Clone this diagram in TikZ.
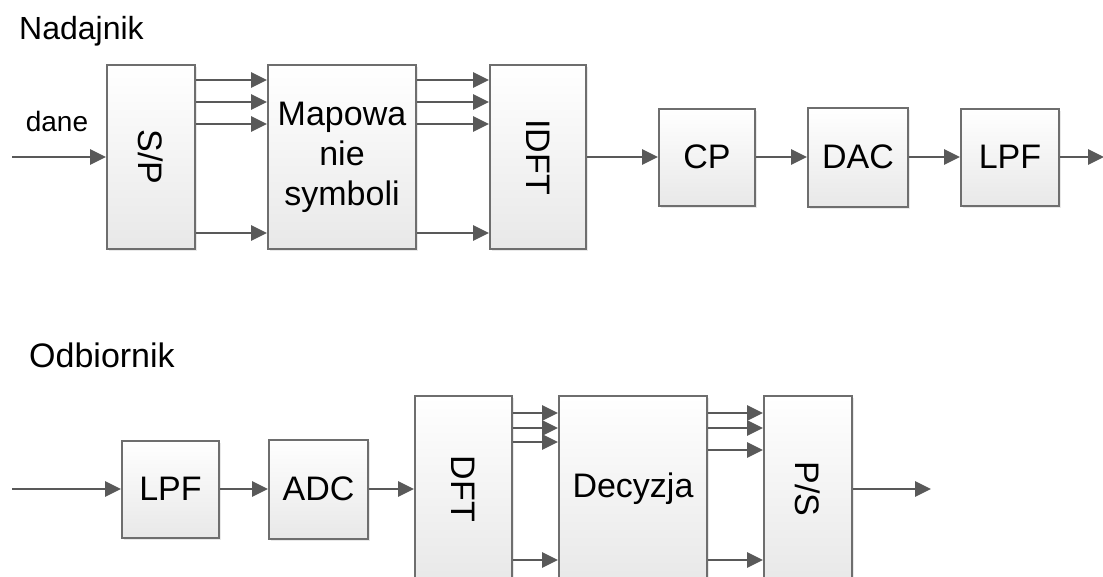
\documentclass[tikz,border=0pt]{standalone}
\usepackage{fontspec}
\setmainfont{Liberation Sans}
\usetikzlibrary{arrows.meta,shadows}
\definecolor{boxline}{HTML}{6E6E6E}
\definecolor{arrline}{HTML}{595959}
\begin{document}
\begin{tikzpicture}[x=1pt,y=-1pt,
  blk/.style={draw=boxline,line width=2pt,top color=white,bottom color=black!9,
    rectangle,inner sep=0pt,
    drop shadow={shadow xshift=2pt,shadow yshift=-2pt,fill=black!25,opacity=0.35}},
  blabel/.style={font=\fontsize{34}{40}\selectfont,text=black,align=center,inner sep=0pt},
  rlabel/.style={blabel,rotate=-90},
  arr/.style={draw=arrline,line width=2.8pt,-{Triangle[length=16pt,width=15pt]}},
  title/.style={font=\fontsize{32}{38}\selectfont,anchor=west,inner sep=0pt}
]
\useasboundingbox (0,0) rectangle (1103,576);
\begin{scope}
\clip (0,0) rectangle (1103,576);
% ---- Nadajnik
\node[title] (tN) at (19,31) {Nadajnik};
\coordinate (inT) at (12,157);
\node[font=\fontsize{28}{32}\selectfont,inner sep=0pt] (dane) at (57,121) {dane};
\node[blk,minimum width=88pt,minimum height=184pt] (sp) at (151,157) {};
\node[rlabel] (spT) at (sp.center) {S/P};
\node[blk,minimum width=148pt,minimum height=184pt] (map) at (342,157) {};
\node[blabel] (mapT) at (map.center) {Mapowa\\nie\\symboli};
\node[blk,minimum width=96pt,minimum height=184pt] (idft) at (538,157) {};
\node[rlabel] (idftT) at (idft.center) {IDFT};
\node[blk,minimum width=96pt,minimum height=97pt] (cp) at (707,157) {};
\node[blabel] (cpT) at (cp.center) {CP};
\node[blk,minimum width=100pt,minimum height=99pt] (dac) at (858,157) {};
\node[blabel] (dacT) at (dac.center) {DAC};
\node[blk,minimum width=98pt,minimum height=97pt] (lpfa) at (1010,157) {};
\node[blabel] (lpfaT) at (lpfa.center) {LPF};
\coordinate (outT) at (1104,157);

\draw[arr] (inT) -- (sp.west);
\foreach \d in {77,55,33,-76}{
  \draw[arr] ([yshift=\d pt]sp.east) -- ([yshift=\d pt]map.west);
  \draw[arr] ([yshift=\d pt]map.east) -- ([yshift=\d pt]idft.west);
}
\draw[arr] (idft.east) -- (cp.west);
\draw[arr] (cp.east) -- (dac.west);
\draw[arr] (dac.east) -- (lpfa.west);
\draw[arr] (lpfa.east) -- (outT);

% ---- Odbiornik
\node[title,font=\fontsize{34}{40}\selectfont] (tO) at (29,355) {Odbiornik};
\coordinate (inB) at (12,489);
\node[blk,minimum width=97pt,minimum height=97pt] (lpfb) at (170.5,489) {};
\node[blabel] (lpfbT) at (lpfb.center) {LPF};
\node[blk,minimum width=99pt,minimum height=99pt] (adc) at (318.5,489) {};
\node[blabel] (adcT) at (adc.center) {ADC};
\node[blk,minimum width=97pt,minimum height=186pt] (dft) at (463.5,489) {};
\node[rlabel] (dftT) at (dft.center) {DFT};
\node[blk,minimum width=148pt,minimum height=186pt] (dec) at (633,489) {};
\node[blabel] (decT) at (dec.center) {Decyzja};
\node[blk,minimum width=88pt,minimum height=186pt] (ps) at (808,489) {};
\node[rlabel] (psT) at (ps.center) {P/S};
\coordinate (outB) at (931,489);

\draw[arr] (inB) -- (lpfb.west);
\draw[arr] (lpfb.east) -- (adc.west);
\draw[arr] (adc.east) -- (dft.west);
\foreach \d in {76,61,47,-71}{
  \draw[arr] ([yshift=\d pt]dft.east) -- ([yshift=\d pt]dec.west);
}
\foreach \d in {76,61,39,-71}{
  \draw[arr] ([yshift=\d pt]dec.east) -- ([yshift=\d pt]ps.west);
}
\draw[arr] (ps.east) -- (outB);
\end{scope}
\end{tikzpicture}
\end{document}
